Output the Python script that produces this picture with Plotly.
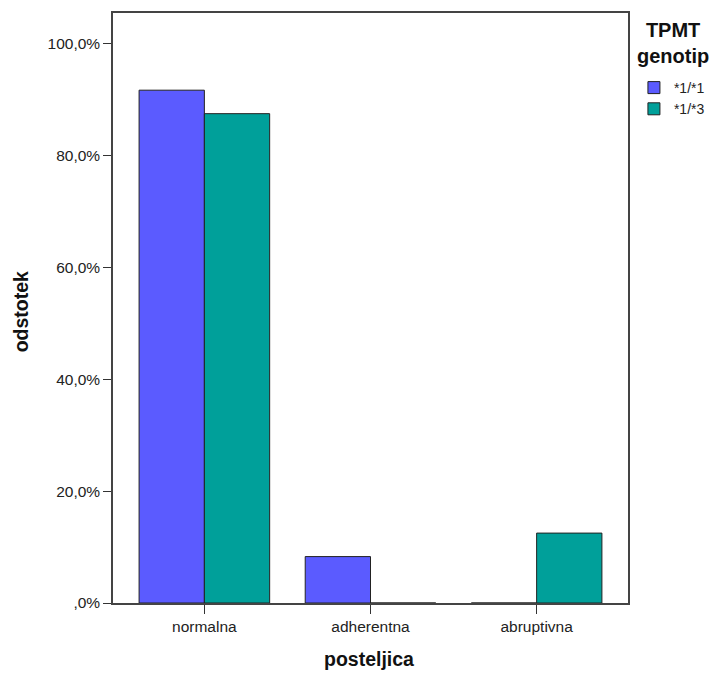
import plotly.graph_objects as go

categories = ["normalna", "adherentna", "abruptivna"]
series_names = ["*1/*1", "*1/*3"]
values_11 = [91.7, 8.3, 0.0]
values_13 = [87.5, 0.0, 12.5]
tick_vals = [0, 20, 40, 60, 80, 100]
tick_text = [",0%", "20,0%", "40,0%", "60,0%", "80,0%", "100,0%"]

colors = ["#5b5bff", "#00a09a"]

fig = go.Figure()
for name, vals, col in zip(series_names, [values_11, values_13], colors):
    fig.add_trace(go.Bar(
        x=categories, y=vals, name=name,
        marker=dict(color=col, line=dict(color="#222222", width=1)),
    ))

font = "Liberation Sans, Arial, sans-serif"
fig.update_layout(
    width=722, height=673,
    margin=dict(l=113, r=87, t=13, b=70),
    paper_bgcolor="white", plot_bgcolor="white",
    barmode="group", bargap=0.214, bargroupgap=0,
    font=dict(family=font, size=15.5, color="#222222"),
    showlegend=True,
    legend=dict(
        x=1.0115, xanchor="left", y=0.9, yanchor="top",
        font=dict(size=14, color="#222222"),
        itemwidth=30, tracegroupgap=0,
    ),
    xaxis=dict(
        range=[-0.55, 2.55], automargin=False,
        showline=True, linecolor="#444444", linewidth=1.5, mirror=True,
        ticks="outside", ticklen=9, tickcolor="#333333",
        tickfont=dict(size=15.5),
    ),
    yaxis=dict(
        range=[0, 105.5], automargin=False,
        showline=True, linecolor="#444444", linewidth=1.5, mirror=True,
        showgrid=False, zeroline=False,
        ticks="outside", ticklen=8, tickcolor="#333333",
        tickvals=tick_vals, ticktext=tick_text,
        tickfont=dict(size=15.5),
    ),
    annotations=[
        dict(text="<b>posteljica</b>", xref="paper", yref="paper", x=0.497, y=-0.0949,
             xanchor="center", yanchor="middle", showarrow=False,
             font=dict(size=19.5, color="#111111")),
        dict(text="<b>odstotek</b>", xref="paper", yref="paper", x=-0.178, y=0.4932,
             xanchor="center", yanchor="middle", showarrow=False, textangle=-90,
             font=dict(size=19.5, color="#111111")),
        dict(text="<b>TPMT<br>genotip</b>", xref="paper", yref="paper", x=1.088, y=0.9487,
             xanchor="center", yanchor="middle", showarrow=False, align="center",
             font=dict(size=20, color="#111111")),
    ],
)
fig.write_html("out.html", post_script="document.body.style.margin='0';",
               config={"displayModeBar": False})
